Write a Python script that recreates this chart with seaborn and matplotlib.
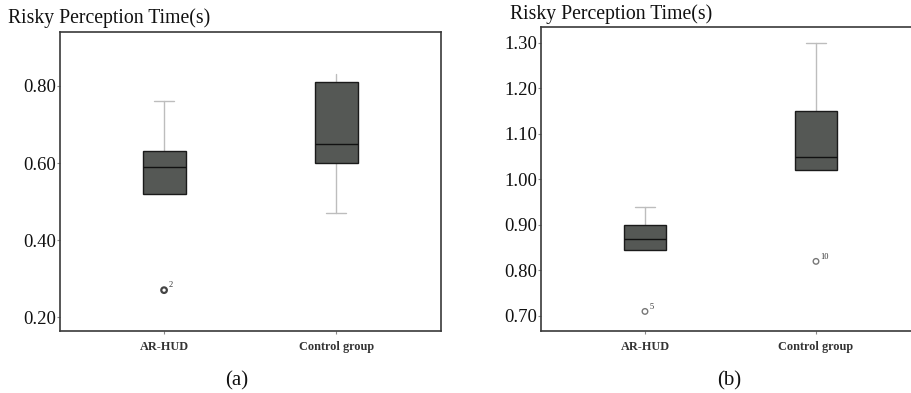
import matplotlib
matplotlib.use("Agg")
import matplotlib.pyplot as plt
import seaborn as sns
import pandas as pd

sns.set_theme(style="white")
plt.rcParams["font.family"] = ["Liberation Serif", "DejaVu Serif"]

groups = ["AR-HUD", "Control group"]

# Panel (a): summary statistics per group
a_whishi = [0.76, 0.83]
a_q3 = [0.63, 0.81]
a_med = [0.59, 0.65]
a_q1 = [0.52, 0.60]
a_whislo = [0.52, 0.47]
a_out_group = ["AR-HUD"]
a_out_val = [0.27]
a_out_id = ["2"]
a_ticks = [0.20, 0.40, 0.60, 0.80]

# Panel (b): summary statistics per group
b_whishi = [0.94, 1.30]
b_q3 = [0.90, 1.15]
b_med = [0.87, 1.05]
b_q1 = [0.845, 1.02]
b_whislo = [0.845, 1.02]
b_out_group = ["AR-HUD", "Control group"]
b_out_val = [0.71, 0.82]
b_out_id = ["5", "10"]
b_ticks = [0.70, 0.80, 0.90, 1.00, 1.10, 1.20, 1.30]

BOX_FACE = "#555855"
SPINE = "#3a3a3a"
WHISKER = "#bdbdbd"

fig = plt.figure(figsize=(9.12, 3.93), dpi=100)
ax_a = fig.add_axes([60 / 912, 1 - 331 / 393, 381 / 912, 299 / 393])
ax_b = fig.add_axes([541 / 912, 1 - 331 / 393, 380 / 912, 304 / 393])


def draw_panel(ax, whishi, q3, med, q1, whislo, out_g, out_v, out_id,
               ticks, ylim, xlim, hide_caps, out_edge, out_lw):
    stats = []
    for i, g in enumerate(groups):
        stats.append(dict(label=g, whislo=whislo[i], q1=q1[i], med=med[i],
                          q3=q3[i], whishi=whishi[i], fliers=[]))
    parts = ax.bxp(stats, positions=range(len(groups)), widths=0.25,
                   patch_artist=True, showfliers=False,
                   boxprops=dict(facecolor=BOX_FACE, edgecolor="#1a1a1a", linewidth=1.0),
                   medianprops=dict(color="#111111", linewidth=1.0),
                   whiskerprops=dict(color=WHISKER, linewidth=1.0),
                   capprops=dict(color=WHISKER, linewidth=1.0),
                   capwidths=0.12, manage_ticks=False)
    for w in parts["whiskers"]:
        w.set_zorder(1)
    # caps come in (lower, upper) pairs per box
    for idx in hide_caps:
        parts["caps"][idx].set_visible(False)
    out_df = pd.DataFrame({"x": [groups.index(g) for g in out_g], "y": out_v})
    sns.scatterplot(data=out_df, x="x", y="y", ax=ax, marker="o", s=16,
                    facecolor="none", edgecolor=out_edge, linewidth=out_lw,
                    legend=False, zorder=3)
    for xi, yi, lab in zip(out_df["x"], out_df["y"], out_id):
        ax.annotate(lab, (xi, yi), xytext=(3, 2), textcoords="offset points",
                    fontsize=6, color="#333333")
    ax.set_xlim(*xlim)
    ax.set_ylim(*ylim)
    ax.set_yticks(ticks)
    ax.set_yticklabels([f"{t:.2f}" for t in ticks], fontsize=13.5, color="#111111")
    ax.set_xticks(range(len(groups)))
    ax.set_xticklabels(groups, fontsize=8.8, fontweight="bold", color="#333333")
    ax.tick_params(axis="y", length=2, width=0.8, color="#888888", pad=1, left=True)
    ax.tick_params(axis="x", length=2, width=0.8, color="#888888", pad=5, bottom=True)
    ax.set_xlabel("")
    ax.set_ylabel("")
    for s in ax.spines.values():
        s.set_color(SPINE)
        s.set_linewidth(1.2)


draw_panel(ax_a, a_whishi, a_q3, a_med, a_q1, a_whislo, a_out_group, a_out_val,
           a_out_id, a_ticks, (0.164, 0.94), (-0.605, 1.61), hide_caps=[0, 3],
           out_edge="#444444", out_lw=1.6)
draw_panel(ax_b, b_whishi, b_q3, b_med, b_q1, b_whislo, b_out_group, b_out_val,
           b_out_id, b_ticks, (0.667, 1.335), (-0.608, 1.614), hide_caps=[0, 2],
           out_edge="#777777", out_lw=1.0)
ax_b.spines["right"].set_visible(False)

fig.text(8 / 912, 1 - 18 / 393, "Risky Perception Time(s)", fontsize=14.2,
         ha="left", va="center", color="#111111")
fig.text(510 / 912, 1 - 14 / 393, "Risky Perception Time(s)", fontsize=14.2,
         ha="left", va="center", color="#111111")
fig.text(237 / 912, 1 - 381 / 393, "(a)", fontsize=15, ha="center", va="center",
         color="#111111")
fig.text(729 / 912, 1 - 381 / 393, "(b)", fontsize=15, ha="center", va="center",
         color="#111111")

fig.savefig("out.png", dpi=100)
